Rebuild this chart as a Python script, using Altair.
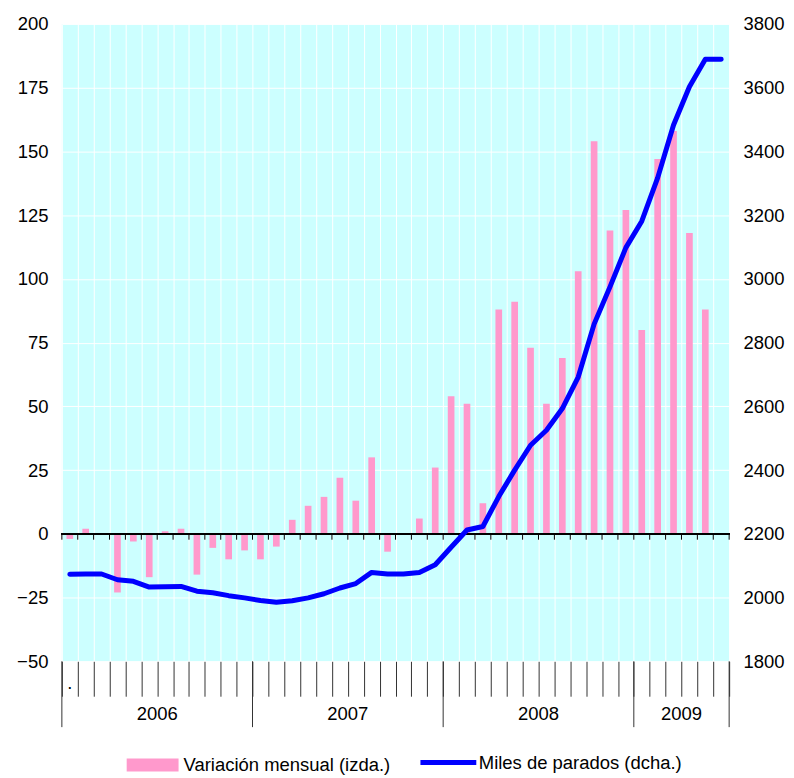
import altair as alt
import pandas as pd

# ---- data (Jan 2006 .. Jun 2009) ----
meses = list(range(42))
variacion = [-2, 2, 0, -23, -3, -17, 1, 2, -16, -5.5, -10, -6.5,
             -10, -5, 5.5, 11, 14.5, 22, 13, 30, -7, 0, 6, 26,
             54, 51, 12, 88, 91, 73, 51, 69, 103, 154, 119, 127,
             80, 147, 158, 118, 88]
parados = [2073, 2074, 2074, 2056, 2051, 2033, 2034, 2035, 2020, 2015, 2006, 1999,
           1991, 1985, 1990, 1999, 2012, 2030, 2044, 2079, 2074, 2074, 2079, 2103,
           2158, 2212, 2223, 2317, 2400, 2478, 2525, 2593, 2692, 2858, 2975, 3098,
           3181, 3317, 3483, 3603, 3689, 3689]
anios = ["2006", "2007", "2008", "2009"]
anio_inicio = [0, 12, 24, 36]
anio_fin = [12, 24, 36, 42]
ticks_izq = list(range(-50, 201, 25))
ticks_der = list(range(1800, 3801, 200))
lab_barras = "Variación mensual (izda.)"
lab_linea = "Miles de parados (dcha.)"

PINK = "#FF99CC"
BLUE = "#0000FF"
BG = "#CCFFFF"
FONT = "Liberation Sans"
FS = 18.5

bars_df = pd.DataFrame({"m": meses[:len(variacion)], "v": variacion})
bars_df["x0"] = bars_df["m"] + 0.29
bars_df["x1"] = bars_df["m"] + 0.71
bars_df["b"] = 0
bars_df["serie"] = lab_barras

line_df = pd.DataFrame({"m": meses, "p": parados})
line_df["xc"] = line_df["m"] + 0.5
line_df["serie"] = lab_linea

zero_df = pd.DataFrame({"m": list(range(43)), "z": 0, "z2": -2.3})
yb_df = pd.DataFrame({"b": anio_inicio + [anio_fin[-1]]})
yl_df = pd.DataFrame({"anio": anios,
                      "c": [(a + b) / 2 for a, b in zip(anio_inicio, anio_fin)]})
dot_df = pd.DataFrame({"c": [0.5], "t": ["."]})

xscale = alt.Scale(domain=[0, 42], nice=False, zero=False)
xaxis = alt.Axis(values=list(range(43)), tickSize=35, tickColor="#333333",
                 labels=False, domain=False, grid=True, gridColor="white",
                 gridWidth=1, title=None)


def X(field):
    return alt.X(field, type="quantitative", scale=xscale, axis=xaxis)


yL = alt.Scale(domain=[-50, 200], nice=False, zero=False)
yaxisL = alt.Axis(values=ticks_izq, grid=True, gridColor="white", ticks=False,
                  domain=False, labelPadding=14, title=None, format="d")
yR = alt.Scale(domain=[1800, 3800], nice=False, zero=False)
yaxisR = alt.Axis(values=ticks_der, orient="right", grid=False, ticks=False,
                  domain=False, labelPadding=14, title=None, format="d")

bars = alt.Chart(bars_df).mark_bar().encode(
    x=X("x0"), x2="x1",
    y=alt.Y("v:Q", scale=yL, axis=yaxisL), y2="b",
    fill=alt.Fill("serie:N", scale=alt.Scale(domain=[lab_barras], range=[PINK]),
                  legend=alt.Legend(orient="none", legendX=65, legendY=717,
                                    title=None, symbolType="M-1,-0.25H1V0.25H-1Z",
                                    symbolSize=2704, symbolStrokeWidth=0,
                                    symbolOpacity=1, labelOffset=5, padding=0,
                                    labelLimit=0)),
)

zero_line = alt.Chart(zero_df).mark_rule(color="black", strokeWidth=1.5).encode(
    y=alt.Y("z:Q", scale=yL, axis=yaxisL)
)
zero_ticks = alt.Chart(zero_df).mark_rule(color="black", strokeWidth=1).encode(
    x=X("m"), y=alt.Y("z:Q", scale=yL, axis=yaxisL), y2="z2"
)
year_rules = alt.Chart(yb_df).mark_rule(color="#333333", strokeWidth=1).encode(
    x=X("b"), y=alt.value(639), y2=alt.value(705)
)
year_text = alt.Chart(yl_df).mark_text(fontSize=FS, baseline="middle", color="black",
                                       font=FONT).encode(
    x=X("c"), y=alt.value(692), text="anio:N"
)
dot_text = alt.Chart(dot_df).mark_text(fontSize=FS, baseline="alphabetic",
                                       color="black", font=FONT).encode(
    x=X("c"), y=alt.value(667), text="t:N"
)

left = alt.layer(bars, zero_line, zero_ticks, year_rules, year_text, dot_text)

line = alt.Chart(line_df).mark_line(strokeWidth=5, strokeCap="round",
                                    strokeJoin="round").encode(
    x=X("xc"),
    y=alt.Y("p:Q", scale=yR, axis=yaxisR),
    stroke=alt.Stroke("serie:N", scale=alt.Scale(domain=[lab_linea], range=[BLUE]),
                      legend=alt.Legend(orient="none", legendX=357, legendY=710,
                                        title=None, symbolType="M-1,0H1",
                                        symbolSize=3136, symbolStrokeWidth=5,
                                        labelOffset=0, padding=0, labelLimit=0)),
)

chart = alt.layer(left, line).resolve_scale(y="independent").properties(
    width=669, height=639, autosize="none",
    padding={"left": 54, "top": 15, "right": 57, "bottom": 113},
).configure(font=FONT).configure_view(fill=BG, stroke=None).configure_axis(
    labelFont=FONT, labelFontSize=FS, labelColor="black"
).configure_legend(labelFont=FONT, labelFontSize=FS, labelColor="black")

chart.save("out.html", embed_options={"renderer": "svg", "actions": False})
